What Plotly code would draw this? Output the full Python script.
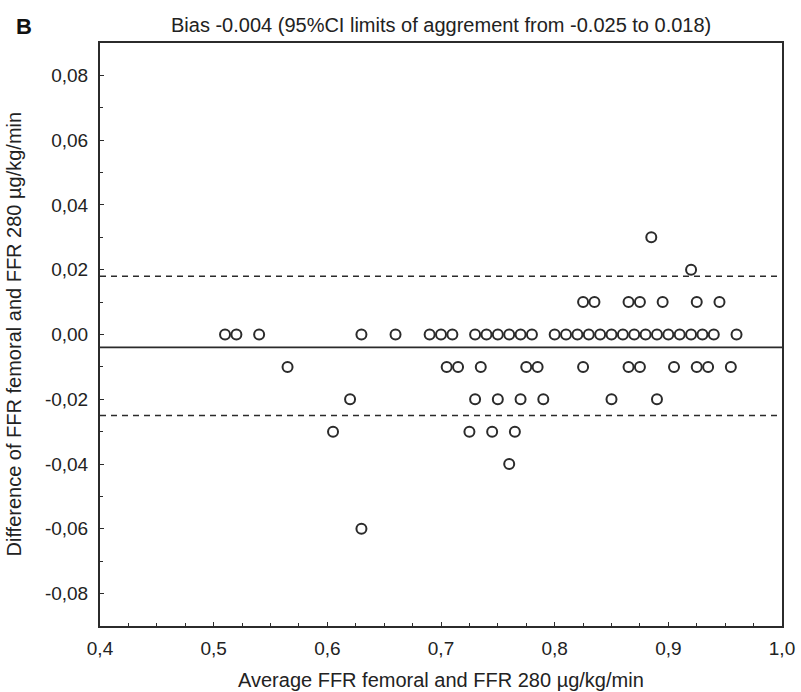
import plotly.graph_objects as go

# ---- data ----
row_0 = [0.51, 0.52, 0.54, 0.63, 0.66, 0.69, 0.70, 0.71, 0.73, 0.74, 0.75, 0.76, 0.77, 0.78,
         0.80, 0.81, 0.82, 0.83, 0.84, 0.85, 0.86, 0.87, 0.88, 0.89, 0.90, 0.91, 0.92, 0.93, 0.94, 0.96]
row_p01 = [0.825, 0.835, 0.865, 0.875, 0.895, 0.925, 0.945]
row_p02 = [0.92]
row_p03 = [0.885]
row_m01 = [0.565, 0.705, 0.715, 0.735, 0.775, 0.785, 0.825, 0.865, 0.875, 0.905, 0.925, 0.935, 0.955]
row_m02 = [0.62, 0.73, 0.75, 0.77, 0.79, 0.85, 0.89]
row_m03 = [0.605, 0.725, 0.745, 0.765]
row_m04 = [0.76]
row_m06 = [0.63]

rows = [(0.0, row_0), (0.01, row_p01), (0.02, row_p02), (0.03, row_p03),
        (-0.01, row_m01), (-0.02, row_m02), (-0.03, row_m03), (-0.04, row_m04), (-0.06, row_m06)]

average = []
difference = []
for d, xs in rows:
    for xv in xs:
        average.append(xv)
        difference.append(d)

bias = -0.004
lower_loa = -0.025
upper_loa = 0.018

x_tickvals = [0.4, 0.5, 0.6, 0.7, 0.8, 0.9, 1.0]
x_ticktext = ["0,4", "0,5", "0,6", "0,7", "0,8", "0,9", "1,0"]
y_tickvals = [0.08, 0.06, 0.04, 0.02, 0.0, -0.02, -0.04, -0.06, -0.08]
y_ticktext = ["0,08", "0,06", "0,04", "0,02", "0,00", "-0,02", "-0,04", "-0,06", "-0,08"]

title_text = "Bias -0.004 (95%CI limits of aggrement from -0.025 to 0.018)"
x_title = "Average FFR femoral and FFR 280 µg/kg/min"
y_title = "Difference of FFR femoral and FFR 280 µg/kg/min"
panel_label = "B"

# ---- figure ----
ink = "#2b2b2b"
font_family = "Liberation Sans, Arial, sans-serif"
fs_tick = 19
fs_text = 20

fig = go.Figure()
fig.add_trace(go.Scatter(
    x=average, y=difference, mode="markers",
    marker=dict(symbol="circle-open", size=10, color=ink, line=dict(width=2, color=ink)),
    showlegend=False, hoverinfo="x+y",
))

fig.add_hline(y=bias, line=dict(color=ink, width=1.8))
fig.add_hline(y=upper_loa, line=dict(color=ink, width=1.6, dash="6px,5px"))
fig.add_hline(y=lower_loa, line=dict(color=ink, width=1.6, dash="6px,5px"))

axis_common = dict(
    showgrid=False, zeroline=False, showline=True, mirror=True,
    linecolor=ink, linewidth=2, ticks="inside", ticklen=4, tickwidth=1.2, tickcolor=ink,
    tickfont=dict(family=font_family, size=fs_tick, color="#222"),
)

fig.update_xaxes(range=[0.4, 1.0], tickvals=x_tickvals, ticktext=x_ticktext,
                 minor=dict(dtick=0.025, ticks="inside", ticklen=3, tickcolor=ink, tickwidth=1),
                 ticklabelstandoff=4, **axis_common)
fig.update_yaxes(range=[-0.09, 0.09], tickvals=y_tickvals, ticktext=y_ticktext,
                 minor=dict(dtick=0.01, ticks="inside", ticklen=3, tickcolor=ink, tickwidth=1),
                 ticklabelstandoff=6, **axis_common)

fig.update_layout(
    width=801, height=692,
    margin=dict(l=100, r=19, t=43, b=66, autoexpand=False),
    paper_bgcolor="white", plot_bgcolor="white",
    font=dict(family=font_family, color="#222"),
    annotations=[
        dict(text=title_text, xref="paper", yref="paper", x=0.5, y=1, yshift=18,
             showarrow=False, font=dict(size=fs_text, family=font_family, color="#222"),
             xanchor="center", yanchor="middle"),
        dict(text="<b>" + panel_label + "</b>", xref="paper", yref="paper", x=0, y=1,
             xshift=-76, yshift=17, showarrow=False,
             font=dict(size=22, family=font_family, color="#111"), xanchor="center", yanchor="middle"),
        dict(text=x_title, xref="paper", yref="paper", x=0.5, y=0, yshift=-54,
             showarrow=False, font=dict(size=fs_text, family=font_family, color="#222"),
             xanchor="center", yanchor="middle"),
        dict(text=y_title, xref="paper", yref="paper", x=0, y=0.5, xshift=-87,
             textangle=-90, showarrow=False, font=dict(size=fs_text, family=font_family, color="#222"),
             xanchor="center", yanchor="middle"),
    ],
)

# remove the default 8px page margin so the 801x692 figure fills the window exactly
fig.write_html("out.html", config={"displayModeBar": False},
               post_script="document.body.style.margin='0';")
